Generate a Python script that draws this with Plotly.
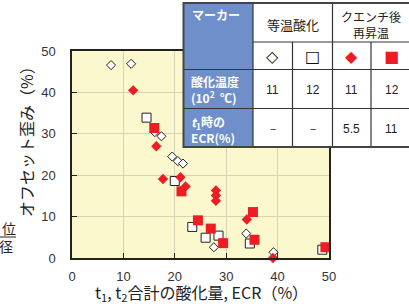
import plotly.graph_objects as go

# ---------------- data ----------------
iso1100_x = [7.6, 11.4, 11.5, 16.1, 17.4, 19.5, 20.6, 21.6, 27.6, 33.9, 39.2]
iso1100_y = [46.6, 50.1, 46.9, 30.4, 29.4, 24.5, 23.4, 22.8, 2.6, 5.9, 1.4]

iso1200_x = [14.5, 20.0, 23.4, 26.0, 28.5, 34.6, 48.7]
iso1200_y = [33.9, 18.6, 7.5, 4.9, 5.4, 3.5, 2.0]

q1100_x = [11.9, 16.4, 17.7, 21.1, 22.1, 28.0, 28.0, 28.0, 34.0, 39.1]
q1100_y = [40.5, 27.0, 19.1, 19.5, 17.3, 16.3, 15.1, 13.8, 9.3, 0.0]

q1200_x = [16.0, 21.3, 24.5, 27.0, 29.4, 35.2, 35.5, 49.3]
q1200_y = [31.4, 16.1, 9.1, 7.1, 3.6, 11.1, 4.4, 2.6]

x_ticks = [0, 10, 20, 30, 40, 50]
y_ticks = [0, 10, 20, 30, 40, 50]

table_cols = ["等温酸化", "クエンチ後<br>再昇温"]
temp_vals = ["11", "12", "11", "12"]
ecr_vals = ["－", "－", "5.5", "11"]

RED = "#EE1D25"
BLUE = "#6F8FCB"

W, H = 409, 304
L, R, T, B = 72, 80, 51, 46
PW, PH = W - L - R, H - T - B


def px(x):
    return (x - L) / PW


def py(y):
    return (H - B - y) / PH


fig = go.Figure()
fig.add_trace(go.Scatter(x=iso1100_x, y=iso1100_y, mode="markers", cliponaxis=False,
                         marker=dict(symbol="diamond", size=7, color="white",
                                     line=dict(color="#222", width=1))))
fig.add_trace(go.Scatter(x=iso1200_x, y=iso1200_y, mode="markers", cliponaxis=False,
                         marker=dict(symbol="square", size=9, color="white",
                                     line=dict(color="#222", width=1))))
fig.add_trace(go.Scatter(x=q1100_x, y=q1100_y, mode="markers", cliponaxis=False,
                         marker=dict(symbol="diamond", size=8, color=RED,
                                     line=dict(color=RED, width=0))))
fig.add_trace(go.Scatter(x=q1200_x, y=q1200_y, mode="markers", cliponaxis=False,
                         marker=dict(symbol="square", size=10, color=RED,
                                     line=dict(color=RED, width=0))))

axis_common = dict(range=[0, 50], tickvals=x_ticks, showgrid=True, gridcolor="#D6D3B4",
                   gridwidth=1, zeroline=False, showline=True, linecolor="#222",
                   linewidth=1.5, mirror=True, ticks="inside", ticklen=5,
                   tickcolor="#222", fixedrange=True,
                   tickfont=dict(family="Liberation Sans, Arial", size=13, color="#333"))

fig.update_xaxes(**axis_common, ticklabelstandoff=6)
fig.update_yaxes(**{**axis_common, "tickvals": y_ticks}, ticklabelstandoff=12)

shapes = []
annotations = []

# table geometry (pixels)
tx0, tx1 = 183.5, 412
cols = [183.5, 253, 292.5, 332.5, 371, 412]
rows = [3, 42, 69.5, 108.5, 147]


def rect(x0, y0, x1, y1, fill, lw=0, lc="#333"):
    shapes.append(dict(type="rect", xref="paper", yref="paper", layer="above",
                       x0=px(x0), x1=px(x1), y0=py(y1), y1=py(y0),
                       fillcolor=fill, line=dict(width=lw, color=lc)))


def line(x0, y0, x1, y1, lw=1.2, lc="#333"):
    shapes.append(dict(type="line", xref="paper", yref="paper", layer="above",
                       x0=px(x0), x1=px(x1), y0=py(y0), y1=py(y1),
                       line=dict(width=lw, color=lc)))


def text(x, y, s, size=12, color="#222", xanchor="center", fam="Noto Sans CJK JP"):
    annotations.append(dict(xref="paper", yref="paper", x=px(x), y=py(y), text=s,
                            showarrow=False, xanchor=xanchor, yanchor="middle",
                            font=dict(size=size, color=color, family=fam),
                            align="center" if xanchor == "center" else "left"))


rect(tx0, rows[0], tx1, rows[4], "white")
rect(cols[0], rows[0], cols[1], rows[4], BLUE)
for yv in rows[1:4]:
    x_start = cols[1] if yv == rows[1] else cols[0]
    line(x_start, yv, tx1, yv)
line(cols[1], rows[0], cols[1], rows[4])
line(cols[3], rows[0], cols[3], rows[4])
line(cols[2], rows[1], cols[2], rows[4])
line(cols[4], rows[1], cols[4], rows[4])
rect(tx0, rows[0], tx1, rows[4], "rgba(0,0,0,0)", lw=2, lc="#444")

text(190, 14, "<b>マーカー</b>", size=12, color="white", xanchor="left")
text((cols[1] + cols[3]) / 2, 24, table_cols[0], size=13)
text((cols[3] + cols[5]) / 2 - 1, 24, table_cols[1], size=12)

sym = ["◇", "□", "◆", "■"]
sym_col = ["#111", "#111", RED, RED]
for i in range(4):
    cx = (cols[i + 1] + cols[i + 2]) / 2
    text(cx, 56, sym[i], size=16, color=sym_col[i], fam="DejaVu Sans")
    text(cx, 90, temp_vals[i], size=12, fam="Liberation Sans, Arial")
    text(cx, 129, ecr_vals[i], size=12, fam="Liberation Sans, Arial")

text(189, 89, "<b>酸化温度<br>(10<sup>2</sup>  ℃)</b>", size=12, color="white", xanchor="left")
text(189, 129, "<b><i>t</i><sub>1</sub>時の<br>ECR(%)</b>", size=12, color="white", xanchor="left")

# axis titles
annotations.append(dict(xref="paper", yref="paper", x=px(26), y=py(138),
                        text="オフセット歪み（%）", textangle=-90, showarrow=False,
                        xanchor="center", yanchor="middle",
                        font=dict(size=16, color="#222", family="Noto Sans CJK JP")))
text(201, 292, "t<sub>1</sub>, t<sub>2</sub>合計の酸化量, ECR（%）", size=16)

# cut-off fraction at left edge
text(9, 228, "位", size=14)
text(6, 246, "径", size=14)
line(0, 237, 16, 237, lw=1, lc="#222")

fig.update_layout(width=W, height=H, margin=dict(l=L, r=R, t=T, b=B, autoexpand=False),
                  paper_bgcolor="white", plot_bgcolor="#FAF8CC", showlegend=False,
                  shapes=shapes, annotations=annotations)

fig.write_html("out.html", config={"displayModeBar": False},
               post_script="document.body.style.margin='0';document.body.style.overflow='hidden';")
